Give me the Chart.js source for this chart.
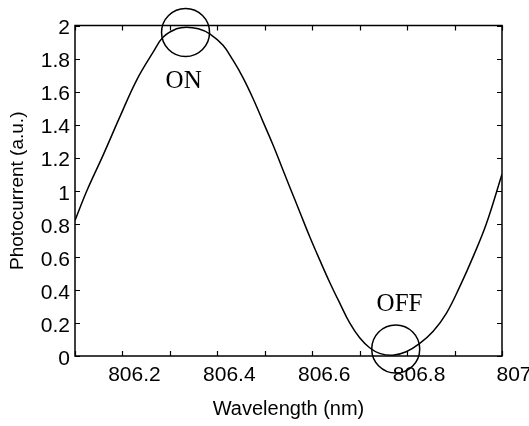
<!DOCTYPE html>
<html>
<head>
<meta charset="utf-8">
<script src="https://cdn.jsdelivr.net/npm/chart.js@4"></script>
<style>
  body { margin: 0; background: #fff; }
</style>
</head>
<body>
<canvas id="myChart" width="529" height="426"></canvas>
<script>
// photocurrent vs wavelength
var wavelength = [806.100, 806.125, 806.160, 806.195, 806.230, 806.265, 806.286, 806.314, 806.335, 806.360,
                  806.384, 806.412, 806.433, 806.454, 806.475, 806.496, 806.517, 806.535, 806.553, 806.574,
                  806.595, 806.616, 806.637, 806.658, 806.679, 806.700, 806.721, 806.742, 806.770, 806.798,
                  806.826, 806.855, 806.883, 806.911, 806.939, 806.967, 807.000];
var photocurrent = [0.82, 1.00, 1.22, 1.45, 1.67, 1.84, 1.93, 1.98, 1.99, 1.98,
                    1.95, 1.88, 1.79, 1.685, 1.56, 1.42, 1.28, 1.15, 1.02, 0.87,
                    0.72, 0.58, 0.445, 0.32, 0.20, 0.11, 0.05, 0.016, 0.005, 0.026,
                    0.075, 0.15, 0.26, 0.42, 0.60, 0.80, 1.10];

// the two circled operating points and their captions
var markerNames = ['ON', 'OFF'];
var markerX = [806.333, 806.776];
var markerY = [1.958, 0.042];
var captionX = [806.329, 806.784];
var captionY = [1.66, 0.31];

var curve = wavelength.map(function (w, i) { return { x: w, y: photocurrent[i] }; });
var markers = markerX.map(function (w, i) { return { x: w, y: markerY[i] }; });

// MATLAB-like box with inward ticks, plus ON / OFF captions
var boxPlugin = {
  id: 'box',
  afterDatasetsDraw: function (chart) {
    var c = chart.ctx, a = chart.chartArea;
    var xs = chart.scales.x, ys = chart.scales.y;
    var len = 5;
    c.save();
    c.strokeStyle = '#000';
    c.lineWidth = 1.5;
    c.strokeRect(a.left, a.top, a.right - a.left, a.bottom - a.top);
    c.lineWidth = 1.2;
    c.beginPath();
    xs.ticks.forEach(function (t) {
      var px = Math.round(xs.getPixelForValue(t.value)) + 0.5;
      c.moveTo(px, a.bottom); c.lineTo(px, a.bottom - len);
      c.moveTo(px, a.top); c.lineTo(px, a.top + len);
    });
    ys.ticks.forEach(function (t) {
      var py = Math.round(ys.getPixelForValue(t.value)) + 0.5;
      c.moveTo(a.left, py); c.lineTo(a.left + len, py);
      c.moveTo(a.right, py); c.lineTo(a.right - len, py);
    });
    c.stroke();
    c.fillStyle = '#000';
    c.font = '25px "Liberation Serif"';
    c.textAlign = 'center';
    c.textBaseline = 'middle';
    markerNames.forEach(function (name, i) {
      c.fillText(name, xs.getPixelForValue(captionX[i]), ys.getPixelForValue(captionY[i]));
    });
    c.restore();
  }
};

var ctx = document.getElementById('myChart').getContext('2d');
var myChart = new Chart(ctx, {
  type: 'scatter',
  data: {
    datasets: [{
      data: curve,
      showLine: true,
      borderColor: '#000',
      borderWidth: 1.5,
      pointRadius: 0,
      tension: 0.4
    }, {
      data: markers,
      showLine: false,
      pointRadius: 24,
      pointBorderWidth: 1.5,
      pointBorderColor: '#000',
      pointBackgroundColor: 'rgba(0,0,0,0)',
      clip: false
    }]
  },
  options: {
    responsive: false,
    animation: false,
    layout: { padding: { top: 20, right: 27, left: 0, bottom: 5 } },
    plugins: {
      legend: { display: false },
      tooltip: { enabled: false }
    },
    scales: {
      x: {
        type: 'linear',
        min: 806.1,
        max: 807,
        grid: { display: false, drawTicks: false },
        border: { display: false },
        afterFit: function (s) { s.height = 65; },
        ticks: {
          stepSize: 0.1,
          padding: 7,
          labelOffset: 12,
          color: '#000',
          font: { family: '"Liberation Sans"', size: 21 },
          maxRotation: 0,
          autoSkip: false,
          callback: function (v) {
            var k = Math.round(v * 10);
            return k % 2 === 0 ? String(k / 10) : '';
          }
        },
        title: {
          display: true,
          text: 'Wavelength (nm)',
          color: '#000',
          font: { family: '"Liberation Sans"', size: 20 },
          padding: { top: 0, bottom: 0 }
        }
      },
      y: {
        min: 0,
        max: 2,
        grid: { display: false, drawTicks: false },
        border: { display: false },
        afterFit: function (s) { s.width = 75; },
        ticks: {
          stepSize: 0.2,
          padding: 5,
          labelOffset: 3,
          color: '#000',
          font: { family: '"Liberation Sans"', size: 21 },
          callback: function (v) { return String(Math.round(v * 10) / 10); }
        },
        title: {
          display: true,
          text: 'Photocurrent (a.u.)',
          color: '#000',
          font: { family: '"Liberation Sans"', size: 19 },
          padding: { top: 6, bottom: 0 }
        }
      }
    }
  },
  plugins: [boxPlugin]
});
</script>
</body>
</html>
